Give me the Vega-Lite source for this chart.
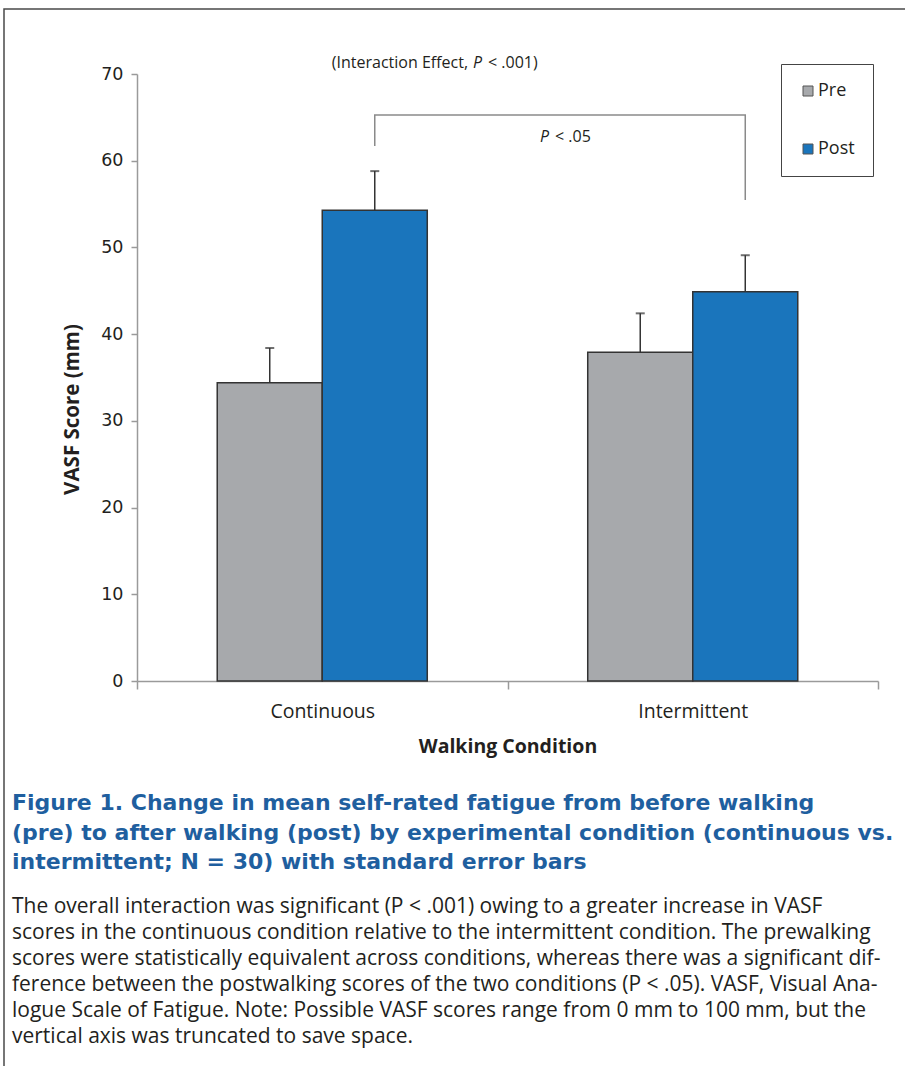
{
  "$schema": "https://vega.github.io/schema/vega-lite/v6.json",
  "width": 905,
  "height": 1070,
  "autosize": {"type": "none"},
  "padding": {"left": 4, "top": 9, "right": 0, "bottom": 0},
  "background": "white",
  "config": {
    "view": {"stroke": "#4a4a4a", "strokeWidth": 1.5},
    "font": "Open Sans"
  },
  "title": {
    "text": [
      "Figure 1. Change in mean self-rated fatigue from before walking",
      "(pre) to after walking (post) by experimental condition (continuous vs.",
      "intermittent; N = 30) with standard error bars"
    ],
    "subtitle": [
      "The overall interaction was significant (P < .001) owing to a greater increase in VASF",
      "scores in the continuous condition relative to the intermittent condition. The prewalking",
      "scores were statistically equivalent across conditions, whereas there was a significant dif-",
      "ference between the postwalking scores of the two conditions (P < .05). VASF, Visual Ana-",
      "logue Scale of Fatigue. Note: Possible VASF scores range from 0 mm to 100 mm, but the",
      "vertical axis was truncated to save space."
    ],
    "orient": "bottom",
    "anchor": "start",
    "frame": "group",
    "offset": -286,
    "dx": 8,
    "font": "DejaVu Sans",
    "fontSize": 22,
    "fontWeight": "bold",
    "color": "#1f5f9f",
    "lineHeight": 29.5,
    "subtitleFont": "Open Sans",
    "subtitleFontSize": 21,
    "subtitleColor": "#231f20",
    "subtitleLineHeight": 26,
    "subtitlePadding": 22
  },
  "datasets": {
    "bars": [
      {"Condition": "Continuous", "Group": "Pre", "Score": 34.4, "Upper": 38.4},
      {"Condition": "Continuous", "Group": "Post", "Score": 54.3, "Upper": 58.8},
      {"Condition": "Intermittent", "Group": "Pre", "Score": 37.9, "Upper": 42.4},
      {"Condition": "Intermittent", "Group": "Post", "Score": 44.9, "Upper": 49.1}
    ],
    "bracket": [
      {"Condition": "Continuous", "Group": "Post", "Level": 61.7, "Seq": 1},
      {"Condition": "Continuous", "Group": "Post", "Level": 65.27, "Seq": 2},
      {"Condition": "Intermittent", "Group": "Post", "Level": 65.27, "Seq": 3},
      {"Condition": "Intermittent", "Group": "Post", "Level": 55.47, "Seq": 4}
    ]
  },
  "layer": [
    {
      "data": {"name": "bars"},
      "mark": {"type": "bar", "stroke": "#333333", "strokeWidth": 1.5},
      "encoding": {
        "x": {
          "field": "Condition",
          "type": "nominal",
          "title": "Walking Condition",
          "scale": {"range": [133, 874], "paddingInner": 0, "paddingOuter": 0},
          "axis": {
            "offset": -398,
            "tickBand": "extent",
            "ticks": true,
            "tickSize": 8,
            "tickColor": "#9a9a9a",
            "tickWidth": 1.5,
            "domainColor": "#9a9a9a",
            "domainWidth": 1.5,
            "labelAngle": 0,
            "labelFont": "Open Sans",
            "labelFontSize": 19.5,
            "labelColor": "#231f20",
            "labelPadding": 13,
            "titleFont": "Open Sans",
            "titleFontSize": 19.5,
            "titleFontWeight": "bold",
            "titleColor": "#231f20",
            "titlePadding": 17
          }
        },
        "xOffset": {
          "field": "Group",
          "type": "nominal",
          "sort": ["Pre", "Post"],
          "scale": {"paddingInner": 0, "paddingOuter": 0.764}
        },
        "y": {
          "field": "Score",
          "type": "quantitative",
          "title": "VASF Score (mm)",
          "scale": {"domain": [0, 70], "range": [672, 65], "nice": false, "zero": true},
          "axis": {
            "values": [0, 10, 20, 30, 40, 50, 60, 70],
            "offset": -133,
            "grid": false,
            "domainColor": "#9a9a9a",
            "domainWidth": 1.5,
            "tickColor": "#9a9a9a",
            "tickWidth": 1.5,
            "tickSize": 6,
            "labelFont": "DejaVu Sans",
            "labelFontSize": 17.5,
            "labelColor": "#231f20",
            "labelPadding": 8,
            "titleFont": "Open Sans",
            "titleFontSize": 20.5,
            "titleFontWeight": "bold",
            "titleColor": "#231f20",
            "titleX": -59,
            "titleY": 400,
            "titleBaseline": "alphabetic"
          }
        },
        "color": {
          "field": "Group",
          "type": "nominal",
          "sort": ["Pre", "Post"],
          "scale": {"domain": ["Pre", "Post"], "range": ["#a7a9ac", "#1a75bc"]},
          "legend": {
            "title": null,
            "orient": "none",
            "legendX": 777,
            "legendY": 55,
            "direction": "vertical",
            "padding": 18,
            "strokeColor": "#444444",
            "fillColor": "white",
            "symbolType": "square",
            "symbolSize": 100,
            "symbolStrokeColor": "#555555",
            "symbolStrokeWidth": 1,
            "labelFont": "Open Sans",
            "labelFontSize": 18,
            "labelColor": "#231f20",
            "labelOffset": 1,
            "rowPadding": 40
          }
        }
      }
    },
    {
      "data": {"name": "bars"},
      "mark": {"type": "rule", "stroke": "#333333", "strokeWidth": 1.5},
      "encoding": {
        "x": {"field": "Condition", "type": "nominal"},
        "xOffset": {"field": "Group", "type": "nominal", "sort": ["Pre", "Post"]},
        "y": {"field": "Score", "type": "quantitative"},
        "y2": {"field": "Upper"}
      }
    },
    {
      "data": {"name": "bars"},
      "mark": {"type": "tick", "color": "#333333", "thickness": 2, "size": 9, "orient": "horizontal"},
      "encoding": {
        "x": {"field": "Condition", "type": "nominal"},
        "xOffset": {"field": "Group", "type": "nominal", "sort": ["Pre", "Post"]},
        "y": {"field": "Upper", "type": "quantitative"}
      }
    },
    {
      "data": {"name": "bracket"},
      "mark": {"type": "line", "stroke": "#8a8a8a", "strokeWidth": 1.5},
      "encoding": {
        "x": {"field": "Condition", "type": "nominal"},
        "xOffset": {"field": "Group", "type": "nominal", "sort": ["Pre", "Post"]},
        "y": {"field": "Level", "type": "quantitative"},
        "order": {"field": "Seq", "type": "quantitative"}
      }
    },
    {
      "data": {"values": [{}]},
      "mark": {"type": "text", "text": "(Interaction Effect,", "align": "right", "baseline": "middle", "dx": -5, "font": "Open Sans", "fontSize": 16, "color": "#231f20"},
      "encoding": {
        "x": {"datum": "Continuous", "bandPosition": 0.907},
        "y": {"datum": 71.27}
      }
    },
    {
      "data": {"values": [{}]},
      "mark": {"type": "text", "text": "P", "align": "left", "baseline": "middle", "font": "Open Sans", "fontStyle": "italic", "fontSize": 16, "color": "#231f20"},
      "encoding": {
        "x": {"datum": "Continuous", "bandPosition": 0.907},
        "y": {"datum": 71.27}
      }
    },
    {
      "data": {"values": [{}]},
      "mark": {"type": "text", "text": "< .001)", "align": "left", "baseline": "middle", "dx": 15, "font": "Open Sans", "fontSize": 16, "color": "#231f20"},
      "encoding": {
        "x": {"datum": "Continuous", "bandPosition": 0.907},
        "y": {"datum": 71.27}
      }
    },
    {
      "data": {"values": [{}]},
      "mark": {"type": "text", "text": "P", "align": "left", "baseline": "middle", "font": "Open Sans", "fontStyle": "italic", "fontSize": 16, "color": "#231f20"},
      "encoding": {
        "x": {"datum": "Intermittent", "bandPosition": 0.0877},
        "y": {"datum": 62.74}
      }
    },
    {
      "data": {"values": [{}]},
      "mark": {"type": "text", "text": "< .05", "align": "left", "baseline": "middle", "dx": 15, "font": "Open Sans", "fontSize": 16, "color": "#231f20"},
      "encoding": {
        "x": {"datum": "Intermittent", "bandPosition": 0.0877},
        "y": {"datum": 62.74}
      }
    }
  ]
}
